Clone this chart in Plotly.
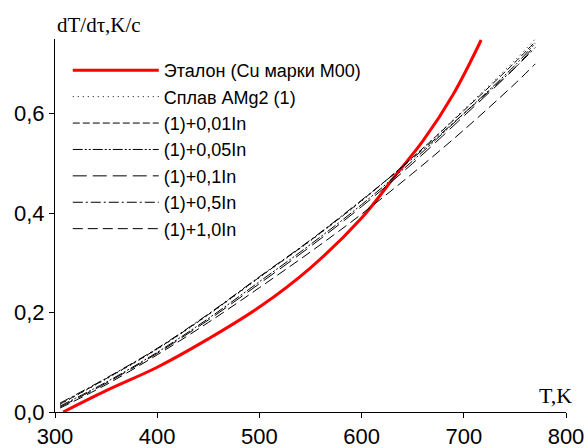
import plotly.graph_objects as go

# Reference (red) series
t_ref = [308, 350, 400, 450, 500, 550, 600, 634, 660, 690, 717]
v_ref = [0.0, 0.043, 0.09, 0.147, 0.211, 0.29, 0.39, 0.478, 0.545, 0.64, 0.748]

# Alloy series share temperatures
t_alloy = [305, 350, 400, 450, 500, 550, 600, 650, 700, 750, 770]
v_amg2 = [0.015, 0.066, 0.126, 0.195, 0.27, 0.344, 0.424, 0.512, 0.608, 0.707, 0.75]
v_in001 = [0.016, 0.067, 0.127, 0.196, 0.271, 0.345, 0.425, 0.512, 0.606, 0.703, 0.745]
v_in005 = [0.012, 0.06, 0.12, 0.188, 0.262, 0.337, 0.417, 0.505, 0.600, 0.697, 0.742]
v_in01 = [0.01, 0.058, 0.118, 0.185, 0.258, 0.333, 0.413, 0.50, 0.595, 0.692, 0.738]
v_in05 = [0.018, 0.068, 0.128, 0.197, 0.272, 0.346, 0.426, 0.51, 0.60, 0.692, 0.733]
v_in10 = [0.008, 0.055, 0.115, 0.18, 0.25, 0.322, 0.398, 0.48, 0.567, 0.66, 0.70]

names = ["Эталон (Cu марки M00)", "Сплав AMg2 (1)", "(1)+0,01In", "(1)+0,05In",
         "(1)+0,1In", "(1)+0,5In", "(1)+1,0In"]

x_ticks = [300, 400, 500, 600, 700, 800]
y_ticks = [0.0, 0.2, 0.4, 0.6]
y_ticklabels = ["0,0", "0,2", "0,4", "0,6"]

fig = go.Figure()
fig.add_trace(go.Scatter(x=t_ref, y=v_ref, mode="lines", name=names[0],
                         line=dict(color="#ff0000", width=3, shape="spline")))
series = [v_amg2, v_in001, v_in005, v_in01, v_in05, v_in10]
dashes = ["1px,4px", "7px,3px", "10px,2px,2px,2px,2px,2px", "14px,6px",
          "10px,3px,2px,3px", "10px,5px"]
for nm, vals, d in zip(names[1:], series, dashes):
    fig.add_trace(go.Scatter(x=t_alloy, y=vals, mode="lines", name=nm,
                             line=dict(color="black", width=1, dash=d, shape="spline")))

tickfont = dict(family="Liberation Sans, Arial, sans-serif", size=22, color="black")
fig.update_layout(
    width=588, height=448,
    margin=dict(l=55, r=22, t=39, b=36, pad=0),
    plot_bgcolor="white", paper_bgcolor="white",
    showlegend=True,
    legend=dict(x=0.025, y=0.965, xanchor="left", yanchor="top",
                bgcolor="rgba(0,0,0,0)", itemwidth=86,
                font=dict(family="Liberation Sans, Arial, sans-serif", size=18, color="black"),
                tracegroupgap=0),
    xaxis=dict(range=[300, 800], tickvals=x_ticks, ticktext=[str(v) for v in x_ticks],
               showline=True, linecolor="black", linewidth=1, showgrid=False, zeroline=False,
               ticks="outside", ticklen=5, tickcolor="black", tickfont=tickfont,
               automargin=False),
    yaxis=dict(range=[0, 0.75], tickvals=y_ticks, ticktext=y_ticklabels,
               showline=True, linecolor="black", linewidth=1, showgrid=False, zeroline=False,
               ticks="outside", ticklen=5, tickcolor="black", tickfont=tickfont,
               automargin=False),
    annotations=[
        dict(text="dT/dτ,K/c", xref="paper", yref="paper", x=0, y=1.0, xanchor="left",
             yanchor="bottom", showarrow=False, yshift=0,
             font=dict(family="Liberation Serif, Times New Roman, serif", size=21, color="black")),
        dict(text="T,K", xref="paper", yref="paper", x=1.0, y=0, xanchor="right",
             yanchor="bottom", showarrow=False, yshift=2, xshift=8,
             font=dict(family="Liberation Serif, Times New Roman, serif", size=22, color="black")),
    ],
)
fig.write_html("out.html")
